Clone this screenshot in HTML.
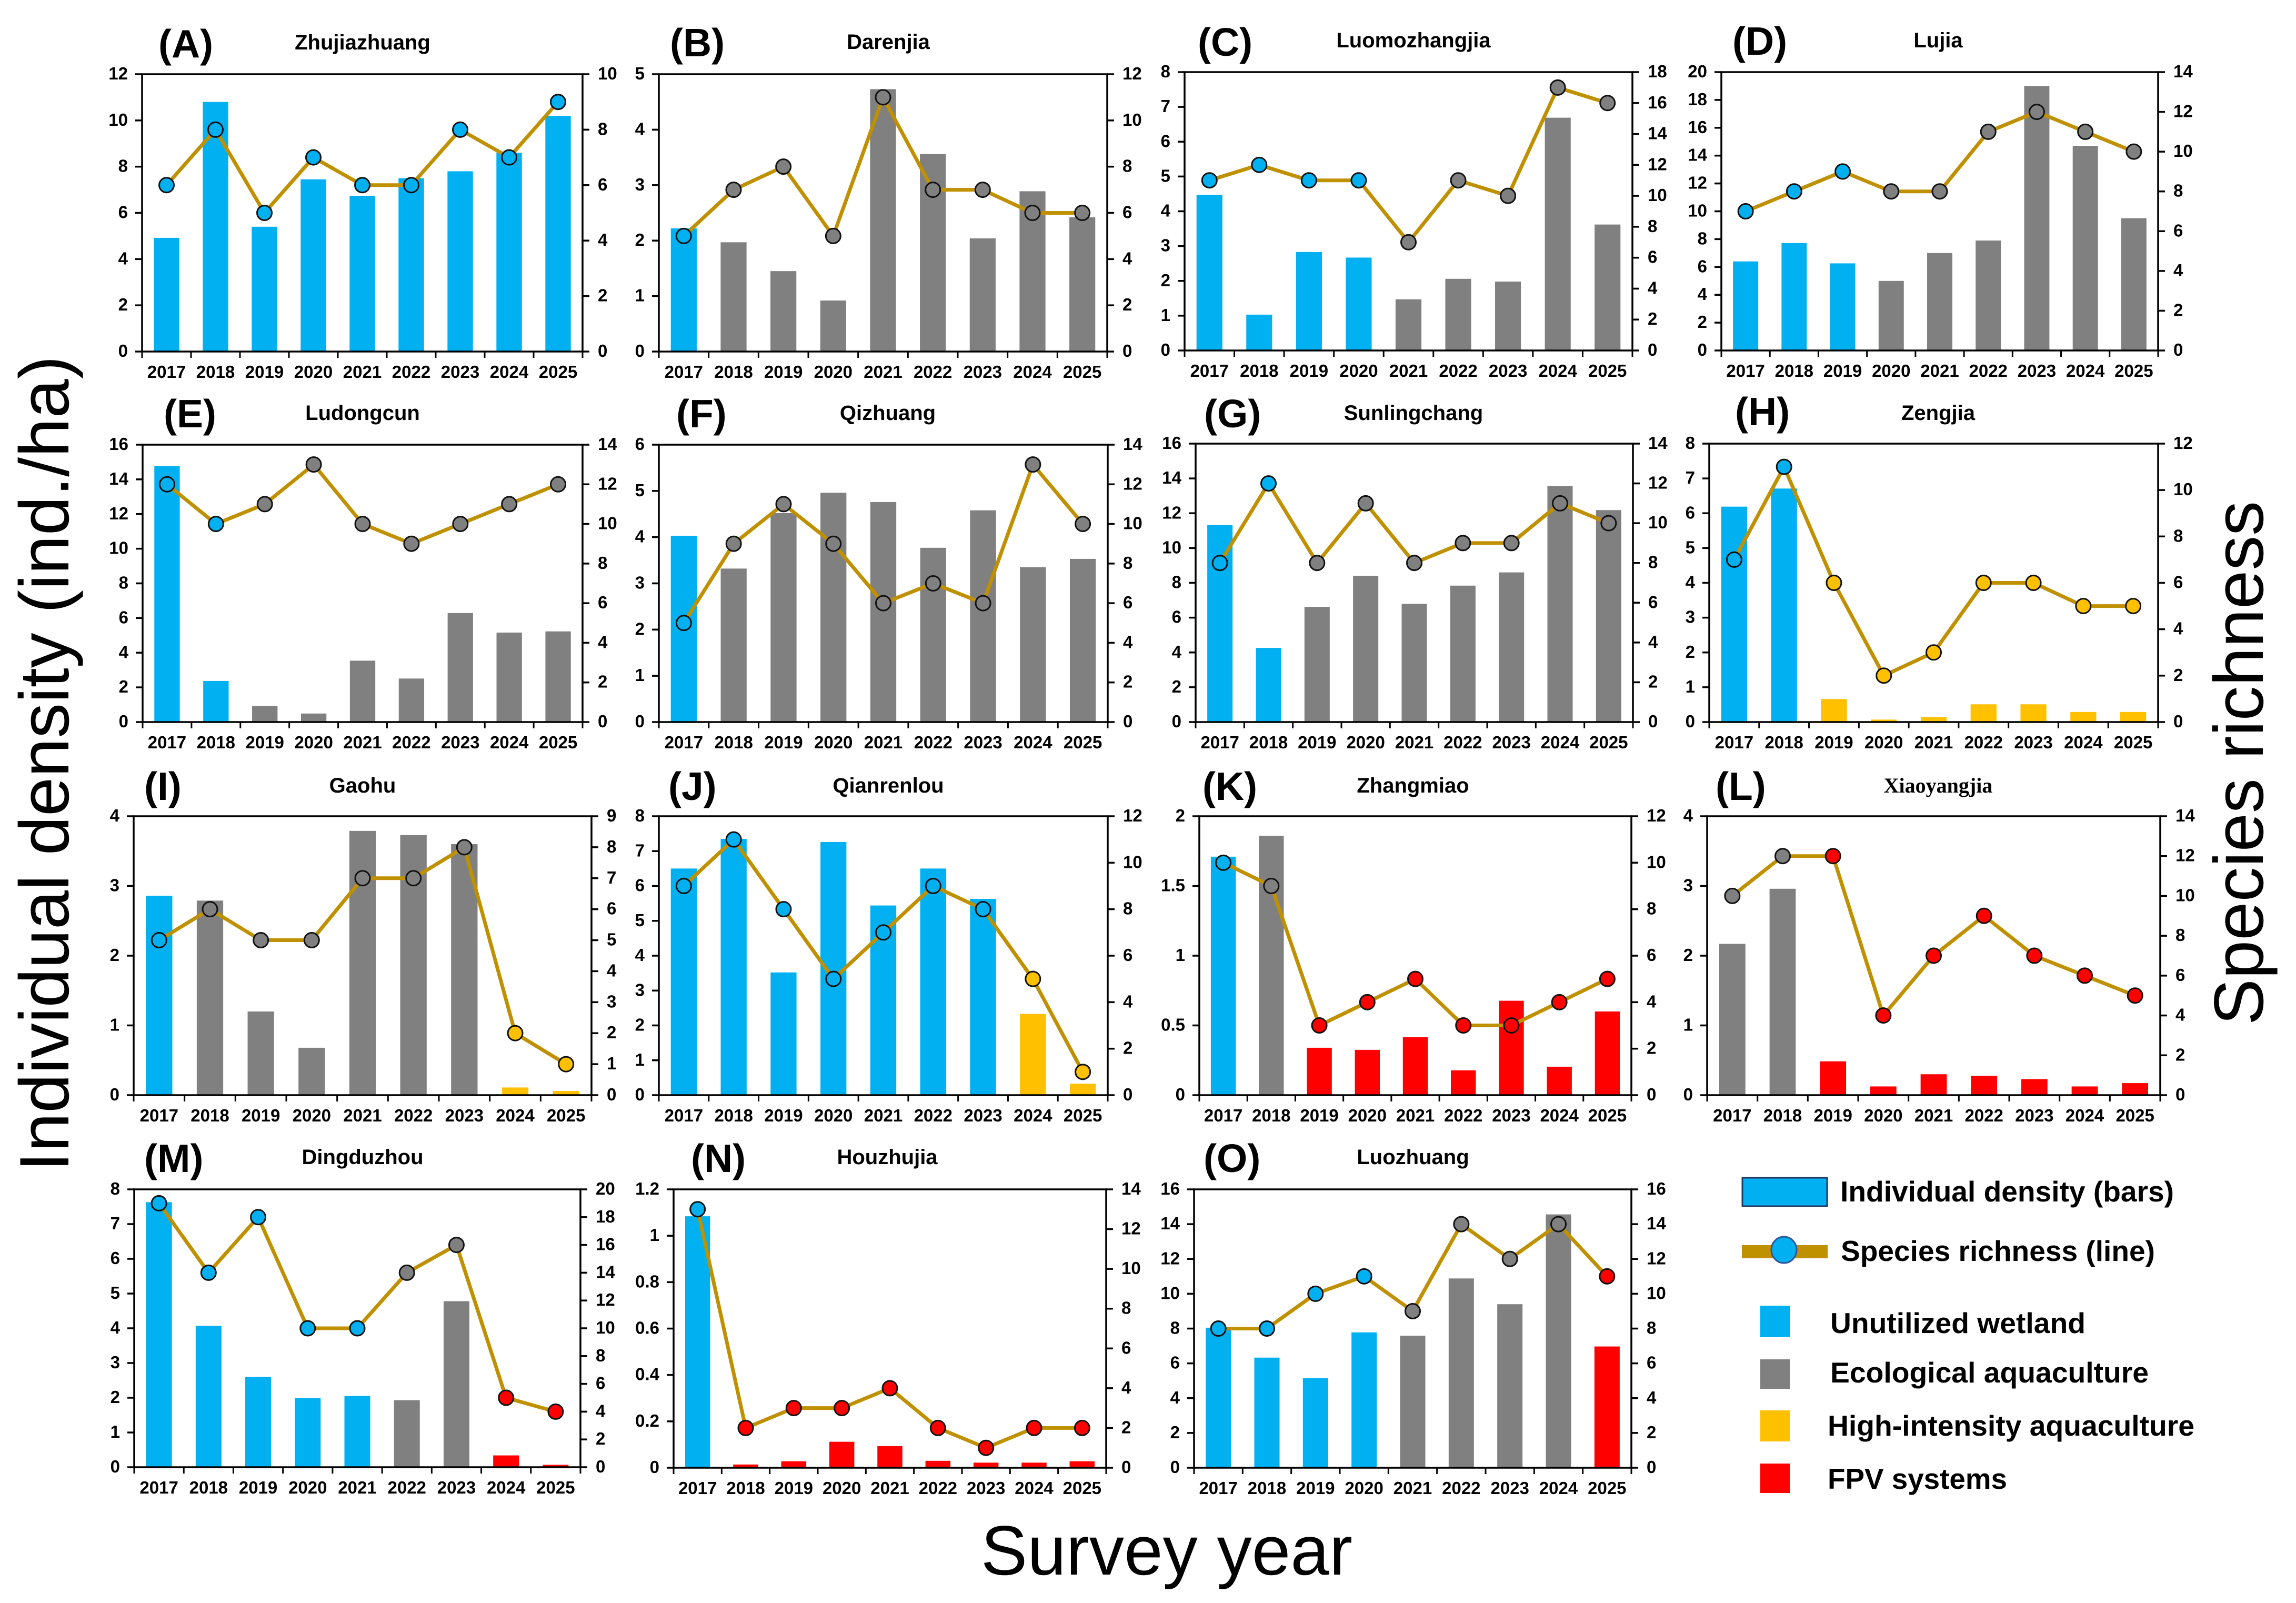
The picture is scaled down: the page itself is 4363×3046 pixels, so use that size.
<!DOCTYPE html>
<html lang="en">
<head>
<meta charset="utf-8">
<title>Individual density and species richness by site, 2017-2025</title>
<style>
html,body{margin:0;padding:0;background:#fff;}
svg{display:block;font-family:"Liberation Sans",Arial,sans-serif;}
.tick{font-size:33px;font-weight:700;fill:#000;}
.ptitle{font-size:40px;font-weight:700;text-anchor:middle;fill:#000;}
.plabel{font-size:75px;font-weight:700;fill:#000;}
.big{font-size:133px;fill:#000;}
.leg{font-size:55px;font-weight:700;fill:#000;}
</style>
</head>
<body>
<svg id="figure" xmlns="http://www.w3.org/2000/svg" width="4363" height="3046" viewBox="0 0 4363 3046">
  <rect x="0" y="0" width="4363" height="3046" fill="#ffffff"/>

  <g id="panel-a">
    <text class="plabel" x="301" y="109">(A)</text>
    <text class="ptitle" x="689" y="94">Zhujiazhuang</text>
  </g>
  <g id="panel-b">
    <text class="plabel" x="1273" y="107">(B)</text>
    <text class="ptitle" x="1688" y="93">Darenjia</text>
  </g>
  <g id="panel-c">
    <text class="plabel" x="2276" y="106">(C)</text>
    <text class="ptitle" x="2686" y="90">Luomozhangjia</text>
  </g>
  <g id="panel-d">
    <text class="plabel" x="3292" y="104">(D)</text>
    <text class="ptitle" x="3683" y="90">Lujia</text>
  </g>
  <g id="panel-e">
    <text class="plabel" x="311" y="812">(E)</text>
    <text class="ptitle" x="689" y="798">Ludongcun</text>
  </g>
  <g id="panel-f">
    <text class="plabel" x="1285" y="812">(F)</text>
    <text class="ptitle" x="1687" y="798">Qizhuang</text>
  </g>
  <g id="panel-g">
    <text class="plabel" x="2288" y="812">(G)</text>
    <text class="ptitle" x="2686" y="798">Sunlingchang</text>
  </g>
  <g id="panel-h">
    <text class="plabel" x="3297" y="808">(H)</text>
    <text class="ptitle" x="3683" y="798">Zengjia</text>
  </g>
  <g id="panel-i">
    <text class="plabel" x="274" y="1520">(I)</text>
    <text class="ptitle" x="689" y="1506">Gaohu</text>
  </g>
  <g id="panel-j">
    <text class="plabel" x="1270" y="1520">(J)</text>
    <text class="ptitle" x="1688" y="1506">Qianrenlou</text>
  </g>
  <g id="panel-k">
    <text class="plabel" x="2285" y="1520">(K)</text>
    <text class="ptitle" x="2685" y="1506">Zhangmiao</text>
  </g>
  <g id="panel-l">
    <text class="plabel" x="3260" y="1520">(L)</text>
    <text class="ptitle" x="3683" y="1506" style="font-family:'Liberation Serif',serif">Xiaoyangjia</text>
  </g>
  <g id="panel-m">
    <text class="plabel" x="274" y="2227">(M)</text>
    <text class="ptitle" x="689" y="2212">Dingduzhou</text>
  </g>
  <g id="panel-n">
    <text class="plabel" x="1313" y="2227">(N)</text>
    <text class="ptitle" x="1686" y="2212">Houzhujia</text>
  </g>
  <g id="panel-o">
    <text class="plabel" x="2287" y="2227">(O)</text>
    <text class="ptitle" x="2685" y="2212">Luozhuang</text>
  </g>

  <text class="big" transform="translate(130,2226) rotate(-90)" textLength="1550" lengthAdjust="spacingAndGlyphs">Individual density (ind./ha)</text>
  <text class="big" transform="translate(4300,1948) rotate(-90)" textLength="996" lengthAdjust="spacingAndGlyphs">Species richness</text>
  <text class="big" x="1864" y="2992" textLength="706" lengthAdjust="spacingAndGlyphs">Survey year</text>

  <g>
    <rect x="3311" y="2238" width="161" height="54" fill="#00B0F0" stroke="#1F3864" stroke-width="3"/>
    <text class="leg" x="3497" y="2283" textLength="634" lengthAdjust="spacingAndGlyphs">Individual density (bars)</text>
    <rect x="3310" y="2366" width="163" height="25" fill="#BF9000"/>
    <ellipse cx="3390" cy="2375" rx="24" ry="25" fill="#00B0F0" stroke="#2F5597" stroke-width="3"/>
    <text class="leg" x="3498" y="2396" textLength="597" lengthAdjust="spacingAndGlyphs">Species richness (line)</text>
    <rect x="3345" y="2481" width="56" height="60" fill="#00B0F0"/>
    <text class="leg" x="3478" y="2533" textLength="485" lengthAdjust="spacingAndGlyphs">Unutilized wetland</text>
    <rect x="3345" y="2583" width="56" height="56" fill="#808080"/>
    <text class="leg" x="3478" y="2627" textLength="605" lengthAdjust="spacingAndGlyphs">Ecological aquaculture</text>
    <rect x="3345" y="2680" width="56" height="59" fill="#FFC000"/>
    <text class="leg" x="3473" y="2728" textLength="697" lengthAdjust="spacingAndGlyphs">High-intensity aquaculture</text>
    <rect x="3345" y="2781" width="56" height="56" fill="#FF0000"/>
    <text class="leg" x="3473" y="2829" textLength="341" lengthAdjust="spacingAndGlyphs">FPV systems</text>
  </g>
</svg>

<script>
const years = ['2017','2018','2019','2020','2021','2022','2023','2024','2025'];

const densityA = [4.92,10.8,5.4,7.45,6.74,7.5,7.8,8.6,10.2];
const richnessA = [6,8,5,7,6,6,8,7,9];
const habitatA = ['U','U','U','U','U','U','U','U','U'];
const leftTicksA = [0,2,4,6,8,10,12];
const rightTicksA = [0,2,4,6,8,10];

const densityB = [2.22,1.97,1.45,0.92,4.73,3.56,2.04,2.89,2.42];
const richnessB = [5,7,8,5,11,7,7,6,6];
const habitatB = ['U','E','E','E','E','E','E','E','E'];
const leftTicksB = [0,1,2,3,4,5];
const rightTicksB = [0,2,4,6,8,10,12];

const densityC = [4.47,1.03,2.83,2.67,1.47,2.06,1.98,6.69,3.62];
const richnessC = [11,12,11,11,7,11,10,17,16];
const habitatC = ['U','U','U','U','E','E','E','E','E'];
const leftTicksC = [0,1,2,3,4,5,6,7,8];
const rightTicksC = [0,2,4,6,8,10,12,14,16,18];

const densityD = [6.4,7.72,6.26,5.0,7.0,7.9,19.0,14.7,9.5];
const richnessD = [7,8,9,8,8,11,12,11,10];
const habitatD = ['U','U','U','E','E','E','E','E','E'];
const leftTicksD = [0,2,4,6,8,10,12,14,16,18,20];
const rightTicksD = [0,2,4,6,8,10,12,14];

const densityE = [14.76,2.37,0.92,0.49,3.54,2.51,6.29,5.16,5.23];
const richnessE = [12,10,11,13,10,9,10,11,12];
const habitatE = ['U','U','E','E','E','E','E','E','E'];
const leftTicksE = [0,2,4,6,8,10,12,14,16];
const rightTicksE = [0,2,4,6,8,10,12,14];

const densityF = [4.03,3.32,4.52,4.96,4.76,3.77,4.58,3.35,3.53];
const richnessF = [5,9,11,9,6,7,6,13,10];
const habitatF = ['U','E','E','E','E','E','E','E','E'];
const leftTicksF = [0,1,2,3,4,5,6];
const rightTicksF = [0,2,4,6,8,10,12,14];

const densityG = [11.32,4.26,6.62,8.4,6.79,7.84,8.6,13.56,12.18];
const richnessG = [8,12,8,11,8,9,9,11,10];
const habitatG = ['U','U','E','E','E','E','E','E','E'];
const leftTicksG = [0,2,4,6,8,10,12,14,16];
const rightTicksG = [0,2,4,6,8,10,12,14];

const densityH = [6.19,6.71,0.66,0.07,0.14,0.51,0.51,0.29,0.29];
const richnessH = [7,11,6,2,3,6,6,5,5];
const habitatH = ['U','U','H','H','H','H','H','H','H'];
const leftTicksH = [0,1,2,3,4,5,6,7,8];
const rightTicksH = [0,2,4,6,8,10,12];

const densityI = [2.86,2.79,1.2,0.68,3.79,3.73,3.6,0.11,0.06];
const richnessI = [5,6,5,5,7,7,8,2,1];
const habitatI = ['U','E','E','E','E','E','E','H','H'];
const leftTicksI = [0,1,2,3,4];
const rightTicksI = [0,1,2,3,4,5,6,7,8,9];

const densityJ = [6.5,7.35,3.52,7.26,5.44,6.5,5.63,2.33,0.33];
const richnessJ = [9,11,8,5,7,9,8,5,1];
const habitatJ = ['U','U','U','U','U','U','U','H','H'];
const leftTicksJ = [0,1,2,3,4,5,6,7,8];
const rightTicksJ = [0,2,4,6,8,10,12];

const densityK = [1.71,1.86,0.34,0.325,0.415,0.178,0.677,0.204,0.6];
const richnessK = [10,9,3,4,5,3,3,4,5];
const habitatK = ['U','E','F','F','F','F','F','F','F'];
const leftTicksK = [0,0.5,1,1.5,2];
const rightTicksK = [0,2,4,6,8,10,12];

const densityL = [2.17,2.96,0.485,0.125,0.3,0.277,0.23,0.125,0.173];
const richnessL = [10,12,12,4,7,9,7,6,5];
const habitatL = ['E','E','F','F','F','F','F','F','F'];
const leftTicksL = [0,1,2,3,4];
const rightTicksL = [0,2,4,6,8,10,12,14];

const densityM = [7.63,4.07,2.6,1.99,2.05,1.93,4.78,0.34,0.07];
const richnessM = [19,14,18,10,10,14,16,5,4];
const habitatM = ['U','U','U','U','U','E','E','F','F'];
const leftTicksM = [0,1,2,3,4,5,6,7,8];
const rightTicksM = [0,2,4,6,8,10,12,14,16,18,20];

const densityN = [1.084,0.014,0.028,0.112,0.093,0.03,0.022,0.022,0.028];
const richnessN = [13,2,3,3,4,2,1,2,2];
const habitatN = ['U','F','F','F','F','F','F','F','F'];
const leftTicksN = [0,0.2,0.4,0.6,0.8,1,1.2];
const rightTicksN = [0,2,4,6,8,10,12,14];

const densityO = [8.05,6.33,5.15,7.78,7.59,10.88,9.4,14.56,6.97];
const richnessO = [8,8,10,11,9,14,12,14,11];
const habitatO = ['U','U','U','U','E','E','E','E','F'];
const leftTicksO = [0,2,4,6,8,10,12,14,16];
const rightTicksO = [0,2,4,6,8,10,12,14,16];

const habitatColor = {U:'#00B0F0',E:'#808080',H:'#FFC000',F:'#FF0000'};
const lineColor = '#BF9000';
const NS = 'http://www.w3.org/2000/svg';

function shape(tag, attrs, parent){
  const el = document.createElementNS(NS, tag);
  for(const k in attrs){ el.setAttribute(k, attrs[k]); }
  parent.appendChild(el);
  return el;
}

function drawPanel(letter, box, density, richness, habitat, leftTicks, rightTicks){
  const g = document.getElementById('panel-' + letter);
  const leftMax = leftTicks[leftTicks.length - 1];
  const rightMax = rightTicks[rightTicks.length - 1];
  const band = (box.r - box.l) / years.length;
  const xCenter = i => box.l + band * (i + 0.5);
  const yLeft = v => box.b - (v / leftMax) * (box.b - box.t);
  const yRight = v => box.b - (v / rightMax) * (box.b - box.t);
  const barW = band * 0.52;

  density.forEach((v, i) => {
    const bar = shape('rect', {x: xCenter(i) - barW / 2, y: yLeft(v), width: barW, height: box.b - yLeft(v), fill: habitatColor[habitat[i]]}, g);
    
    
  });

  const frame = shape('rect', {x: box.l, y: box.t, width: box.r - box.l, height: box.b - box.t, fill: 'none', stroke: '#000', 'stroke-width': 3.5}, g);
  
  

  leftTicks.forEach(v => {
    const t = shape('line', {x1: box.l - 13, x2: box.l, y1: yLeft(v), y2: yLeft(v), stroke: '#000', 'stroke-width': 3.5}, g);
    
    
    const lab = shape('text', {x: box.l - 27, y: yLeft(v) + 10, 'text-anchor': 'end', class: 'tick'}, g);
    lab.textContent = String(v);
    
    
  });

  rightTicks.forEach(v => {
    const t = shape('line', {x1: box.r, x2: box.r + 13, y1: yRight(v), y2: yRight(v), stroke: '#000', 'stroke-width': 3.5}, g);
    
    
    const lab = shape('text', {x: box.r + 29, y: yRight(v) + 10, 'text-anchor': 'start', class: 'tick'}, g);
    lab.textContent = String(v);
    
    
  });

  for(let i = 0; i <= years.length; i++){
    const x = box.l + band * i;
    const t = shape('line', {x1: x, x2: x, y1: box.b, y2: box.b + 12, stroke: '#000', 'stroke-width': 3}, g);
    
    
  }
  years.forEach((y, i) => {
    const lab = shape('text', {x: xCenter(i), y: box.b + 50, 'text-anchor': 'middle', class: 'tick'}, g);
    lab.textContent = y;
    
    
  });

  const pts = richness.map((v, i) => xCenter(i) + ',' + yRight(v)).join(' ');
  const line = shape('polyline', {points: pts, fill: 'none', stroke: lineColor, 'stroke-width': 7}, g);
  
  

  richness.forEach((v, i) => {
    const dot = shape('circle', {cx: xCenter(i), cy: yRight(v), r: 14, fill: habitatColor[habitat[i]], stroke: '#111', 'stroke-width': 3}, g);
    
    
  });
}

drawPanel('a', {l:270,r:1107,t:141,b:668}, densityA, richnessA, habitatA, leftTicksA, rightTicksA);
drawPanel('b', {l:1252,r:2104,t:141,b:668}, densityB, richnessB, habitatB, leftTicksB, rightTicksB);
drawPanel('c', {l:2251,r:3102,t:137,b:666}, densityC, richnessC, habitatC, leftTicksC, rightTicksC);
drawPanel('d', {l:3271,r:4101,t:137,b:666}, densityD, richnessD, habitatD, leftTicksD, rightTicksD);
drawPanel('e', {l:271,r:1107,t:845,b:1372}, densityE, richnessE, habitatE, leftTicksE, rightTicksE);
drawPanel('f', {l:1252,r:2105,t:845,b:1372}, densityF, richnessF, habitatF, leftTicksF, rightTicksF);
drawPanel('g', {l:2272,r:3103,t:843,b:1372}, densityG, richnessG, habitatG, leftTicksG, rightTicksG);
drawPanel('h', {l:3248,r:4101,t:843,b:1372}, densityH, richnessH, habitatH, leftTicksH, rightTicksH);
drawPanel('i', {l:254,r:1124,t:1551,b:2081}, densityI, richnessI, habitatI, leftTicksI, rightTicksI);
drawPanel('j', {l:1252,r:2105,t:1551,b:2081}, densityJ, richnessJ, habitatJ, leftTicksJ, rightTicksJ);
drawPanel('k', {l:2279,r:3100,t:1551,b:2081}, densityK, richnessK, habitatK, leftTicksK, rightTicksK);
drawPanel('l', {l:3244,r:4105,t:1551,b:2081}, densityL, richnessL, habitatL, leftTicksL, rightTicksL);
drawPanel('m', {l:255,r:1103,t:2260,b:2788}, densityM, richnessM, habitatM, leftTicksM, rightTicksM);
drawPanel('n', {l:1280,r:2102,t:2260,b:2789}, densityN, richnessN, habitatN, leftTicksN, rightTicksN);
drawPanel('o', {l:2269,r:3100,t:2260,b:2789}, densityO, richnessO, habitatO, leftTicksO, rightTicksO);
</script>
</body>
</html>
